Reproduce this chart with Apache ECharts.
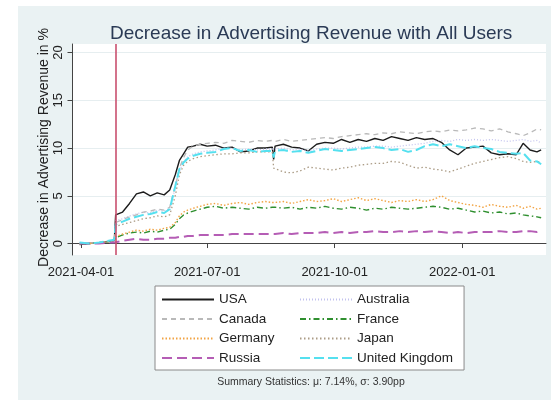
<!DOCTYPE html>
<html><head><meta charset="utf-8">
<script src="https://cdn.jsdelivr.net/npm/echarts@6/dist/echarts.min.js"></script>
<style>html,body{margin:0;padding:0;background:#fff}#c{width:551px;height:400px}</style>
</head><body><div id="c"></div>
<script>
const dates = ['2021-03-31','2021-04-07','2021-04-14','2021-04-21','2021-04-25','2021-04-26','2021-05-01','2021-05-06','2021-05-11','2021-05-16','2021-05-21','2021-05-26','2021-05-31','2021-06-04','2021-06-08','2021-06-11','2021-06-14','2021-06-17','2021-06-21','2021-06-26','2021-07-01','2021-07-07','2021-07-13','2021-07-19','2021-07-25','2021-07-31','2021-08-06','2021-08-12','2021-08-17','2021-08-18','2021-08-19','2021-08-25','2021-08-31','2021-09-06','2021-09-12','2021-09-18','2021-09-24','2021-09-30','2021-10-06','2021-10-12','2021-10-18','2021-10-24','2021-10-30','2021-11-05','2021-11-11','2021-11-17','2021-11-23','2021-11-29','2021-12-05','2021-12-11','2021-12-17','2021-12-23','2021-12-29','2022-01-04','2022-01-10','2022-01-16','2022-01-22','2022-01-28','2022-02-03','2022-02-09','2022-02-14','2022-02-19','2022-02-24','2022-02-27'];
const usa = [-0.1,0.0,0.1,0.2,0.3,3.0,3.3,4.2,5.2,5.4,5.0,5.3,5.1,5.6,7.2,8.7,9.4,10.1,10.2,10.4,10.2,10.3,10.0,10.1,9.6,9.7,10.0,10.0,10.1,8.8,10.2,10.4,10.1,10.0,9.7,10.4,10.6,10.5,10.9,10.6,10.9,10.7,11.0,10.8,11.2,11.0,10.8,11.1,10.9,11.0,10.6,9.8,9.3,10.0,10.1,10.2,9.5,9.3,9.4,9.3,10.5,9.8,9.6,9.8];
const australia = [0.0,0.1,0.1,0.3,0.4,2.4,2.6,2.9,3.1,3.3,3.2,3.5,3.4,3.7,5.8,7.6,8.6,9.1,9.4,9.6,9.7,9.8,10.0,10.0,9.8,9.9,9.8,9.9,9.9,9.9,9.9,10.0,9.8,9.9,9.7,9.9,10.0,10.0,9.9,10.0,10.1,10.1,10.2,10.2,10.1,10.2,10.3,10.4,10.5,10.7,10.8,10.7,10.9,10.8,10.9,10.8,10.9,10.8,10.7,10.8,10.9,10.7,10.8,10.5];
const canada = [0.0,0.0,0.1,0.2,0.3,2.2,2.5,2.8,3.0,3.3,3.4,3.6,3.5,3.8,6.0,7.9,9.0,9.8,10.2,10.4,10.5,10.6,10.5,10.8,10.7,10.6,10.8,10.7,10.8,10.8,10.7,10.9,10.7,10.8,10.9,11.0,11.1,11.0,11.2,11.3,11.4,11.5,11.4,11.6,11.5,11.7,11.6,11.5,11.7,11.8,11.7,11.9,11.8,11.9,12.1,12.0,11.8,12.0,11.7,11.5,11.3,11.6,12.0,11.9];
const france = [0.0,0.0,0.1,0.2,0.3,0.6,0.9,1.1,1.2,1.1,1.3,1.2,1.4,1.5,2.0,2.6,3.0,3.2,3.4,3.6,3.8,3.9,3.7,3.8,3.7,3.6,3.8,3.7,3.8,3.8,3.8,3.7,3.8,3.6,3.8,3.7,3.9,3.7,3.6,3.8,3.7,3.5,3.7,3.6,3.8,3.7,3.6,3.7,3.8,3.9,3.8,3.6,3.7,3.5,3.3,3.4,3.2,3.3,3.1,3.2,3.0,2.9,2.8,2.7];
const germany = [0.0,0.0,0.1,0.2,0.3,0.7,1.0,1.2,1.4,1.3,1.5,1.4,1.6,1.7,2.2,2.9,3.3,3.5,3.7,3.9,4.1,4.2,4.0,4.2,4.3,4.1,4.3,4.4,4.3,4.3,4.3,4.4,4.2,4.4,4.6,4.4,4.5,4.7,4.4,4.6,4.8,4.5,4.7,4.5,4.3,4.5,4.4,4.6,4.4,4.6,5.0,4.5,4.3,4.1,4.0,3.8,4.1,3.9,3.8,4.0,3.7,3.9,3.6,3.7];
const japan = [0.0,0.0,0.1,0.2,0.3,1.8,2.0,2.2,2.4,2.6,2.7,2.9,2.8,3.0,5.0,7.2,8.2,8.6,8.9,9.1,9.2,9.3,9.4,9.4,9.5,9.5,9.6,9.6,9.6,7.9,7.8,7.5,7.4,7.6,8.0,7.9,7.8,7.7,7.9,8.0,8.2,8.3,8.4,8.4,8.6,8.5,8.2,7.9,8.0,7.8,7.7,7.5,7.8,8.1,8.4,8.6,8.8,9.0,9.1,8.9,8.6,8.5,8.6,8.5];
const russia = [0.0,0.0,0.0,0.1,0.1,0.2,0.3,0.4,0.5,0.4,0.4,0.5,0.5,0.6,0.6,0.7,0.7,0.8,0.8,0.9,0.9,0.9,0.9,1.0,1.0,1.0,1.0,1.0,1.0,1.0,1.0,1.1,1.0,1.1,1.1,1.1,1.2,1.1,1.2,1.1,1.2,1.2,1.3,1.2,1.2,1.3,1.2,1.3,1.2,1.3,1.2,1.1,1.2,1.1,1.2,1.2,1.2,1.3,1.2,1.2,1.3,1.3,1.2,1.3];
const uk = [0.1,0.0,0.1,0.3,0.4,2.0,2.3,2.6,2.8,3.0,3.1,3.3,3.2,3.6,6.0,7.8,8.5,8.9,9.2,9.4,9.5,9.6,9.9,10.0,9.7,9.8,9.6,9.7,9.7,9.0,9.7,9.8,9.6,9.7,9.5,9.7,9.9,9.8,9.7,9.8,9.9,10.0,10.1,10.0,9.8,9.9,9.6,9.8,10.2,10.4,10.2,10.4,10.2,10.0,10.2,10.0,9.9,9.6,9.5,9.4,9.5,8.7,8.6,8.3];
const xTickLabels = ['2021-04-01','2021-07-01','2021-10-01','2022-01-01'];
const yTicks = [0,5,10,15,20];
const eventDate = '2021-04-26';
const titleText = 'Decrease in Advertising Revenue with All Users';
const yName = 'Decrease in Advertising Revenue in %';
const summaryText = 'Summary Statistics: \u03bc: 7.14%, \u03c3: 3.90pp';

const FONT = '"Liberation Sans", Arial, sans-serif';
const DAY = 864e5;
const ts = s => { const p = s.split('-').map(Number); return Date.UTC(p[0], p[1]-1, p[2]); };
const pad = n => (n < 10 ? '0' : '') + n;
const fmt = v => { const d = new Date(Math.round(v)); return d.getUTCFullYear() + '-' + pad(d.getUTCMonth()+1) + '-' + pad(d.getUTCDate()); };
const xTicks = xTickLabels.map(ts);
const base = ts('2021-04-01');

const seriesDefs = [
  {name:'USA', data:usa, color:'#1c1c1c', width:1.4, type:'solid'},
  {name:'Australia', data:australia, color:'#c2c2ee', width:1.3, type:[1,2]},
  {name:'Canada', data:canada, color:'#b9b9b9', width:1.3, type:[5,4]},
  {name:'France', data:france, color:'#2f8f2f', width:1.4, type:[6,3,1.5,3]},
  {name:'Germany', data:germany, color:'#f2a444', width:1.4, type:[1.5,2]},
  {name:'Japan', data:japan, color:'#ab9c86', width:1.3, type:[1.5,2.5]},
  {name:'Russia', data:russia, color:'#b55db5', width:2, type:[10,5]},
  {name:'United Kingdom', data:uk, color:'#55e0ef', width:2, type:[10,4]}
];

const series = seriesDefs.map((s, i) => {
  const o = {
    name: s.name, type: 'line', symbol: 'none', showSymbol: false, animation: false,
    data: dates.map((d, j) => [ts(d), s.data[j]]),
    lineStyle: {color: s.color, width: s.width, type: s.type},
    itemStyle: {color: s.color},
    emphasis: {disabled: true}
  };
  if (i === 0) {
    o.markLine = {
      silent: true, symbol: 'none', animation: false,
      label: {show: false},
      lineStyle: {color: '#c9506f', width: 1.6, type: 'solid'},
      data: [{xAxis: ts(eventDate)}]
    };
  }
  return o;
});

const chart = echarts.init(document.getElementById('c'), null, {renderer: 'canvas'});
chart.setOption({
  animation: false,
  backgroundColor: 'transparent',
  graphic: {elements: [
    {type: 'rect', z: -100, silent: true, shape: {x: 18, y: 6, width: 533, height: 394}, style: {fill: '#eaf2f3'}},
    {type: 'text', z: 10, silent: true, x: 311, y: 382, style: {text: summaryText, fontSize: 10.5, fontFamily: FONT, fill: '#333', textAlign: 'center', textVerticalAlign: 'middle'}}
  ]},
  title: {text: titleText, left: 110, top: 24, padding: 0,
    textStyle: {fontSize: 19, fontWeight: 'normal', color: '#2a3a55', fontFamily: FONT}},
  grid: {left: 72, top: 44, width: 474, height: 211, containLabel: false, outerBoundsMode: 'none',
    show: true, backgroundColor: '#ffffff', borderWidth: 0},
  xAxis: {
    type: 'value', min: base - 6.5*DAY, max: base + 335.5*DAY,
    axisLine: {show: true, lineStyle: {color: '#444', width: 1}},
    axisTick: {show: true, length: 4.5, customValues: xTicks, lineStyle: {color: '#444'}},
    axisLabel: {customValues: xTicks, formatter: v => fmt(v), fontSize: 13, color: '#222', fontFamily: FONT, margin: 11, hideOverlap: false, showMinLabel: true, showMaxLabel: true},
    splitLine: {show: false}, minorTick: {show: false}
  },
  yAxis: {
    type: 'value', min: -1.2, max: 20.9,
    name: yName, nameLocation: 'middle', nameGap: 21, nameMoveOverlap: false,
    nameTextStyle: {fontSize: 14, color: '#222', fontFamily: FONT, padding: [0, 0, 0, 4]},
    axisLine: {show: true, lineStyle: {color: '#444', width: 1}},
    axisTick: {show: true, length: 4.5, customValues: yTicks, lineStyle: {color: '#444'}},
    axisLabel: {customValues: yTicks, rotate: 90, margin: 7, fontSize: 13, color: '#222', fontFamily: FONT},
    splitLine: {show: true, lineStyle: {color: '#e6eef0', width: 1}}
  },
  legend: {
    left: 155, top: 286, orient: 'horizontal', width: 300,
    itemWidth: 52, itemHeight: 12, itemGap: 5.5,
    padding: [6.5, 11, 5, 6],
    backgroundColor: '#ffffff', borderColor: '#8a8a8a', borderWidth: 1, borderRadius: 0,
    selectedMode: false,
    itemStyle: {opacity: 0},
    textStyle: {fontSize: 13.5, color: '#222', fontFamily: FONT, width: 74.5, lineHeight: 12},
    data: seriesDefs.map(s => s.name)
  },
  series: series
});
</script></body></html>
